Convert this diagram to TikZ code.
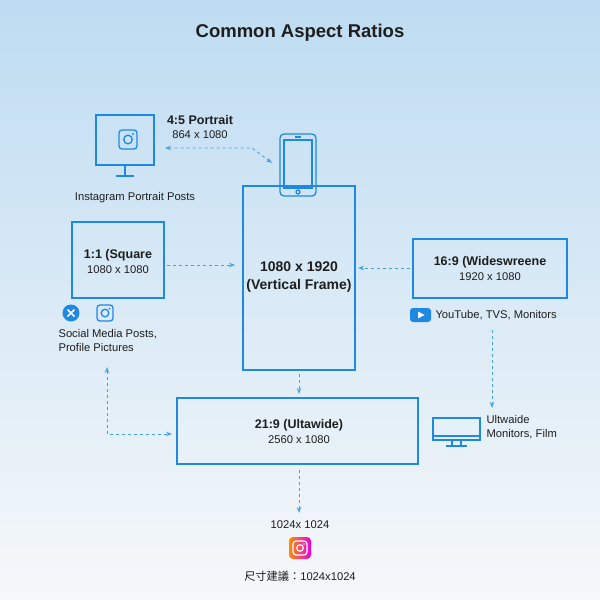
\documentclass[tikz,border=0pt]{standalone}
\usepackage{fontspec}
\setmainfont{Liberation Sans}
\newfontfamily\cjk{Noto Sans CJK TC}
\usetikzlibrary{arrows.meta,calc}
\definecolor{frameblue}{RGB}{30,136,229}
\definecolor{arrowblue}{RGB}{70,160,230}
\definecolor{ink}{RGB}{30,30,30}
\definecolor{bgtop}{RGB}{190,220,242}
\definecolor{bgbot}{RGB}{246,248,250}
\tikzset{
  ratiobox/.style={draw=frameblue, line width=1.4pt},
  flow/.style={arrowblue, dashed, line width=0.9pt, -{Stealth[open,length=6pt]}},
  biflow/.style={arrowblue, dashed, line width=0.9pt, {Stealth[open,length=6pt]}-{Stealth[open,length=6pt]}},
  icon/.style={draw=frameblue, line width=1.3pt},
  head/.style={font=\bfseries\fontsize{12.5}{15}\selectfont, text=ink},
  sub/.style={font=\fontsize{11.2}{13}\selectfont, text=ink},
  note/.style={font=\fontsize{11.2}{14}\selectfont, text=ink, align=left}
}
\begin{document}
\begin{tikzpicture}[x=1pt,y=-1pt]
  % background
  \shade[top color=bgtop, bottom color=bgbot] (0,0) rectangle (600,600);
  \useasboundingbox (0,0) rectangle (600,600);

  % title
  \node[font=\bfseries\fontsize{18.5}{22}\selectfont, text=ink] (title) at (300,33) {Common Aspect Ratios};

  % monitor with instagram (4:5)
  \draw[icon] (96,115) rectangle (154,165);
  \draw[icon] (125,165) -- (125,176) (116,176) -- (134,176);
  \draw[icon, rounded corners=3pt] (119,130) rectangle (137,149);
  \draw[icon] (128,139.5) circle (4.3);
  \fill[frameblue] (133,134) circle (1.1);
  \node[head] (portrait) at (200,120) {4:5 Portrait};
  \node[sub] (portraitsz) at (200,135) {864 x 1080};
  \node[note] (portraitnote) at (135,198) {Instagram Portrait Posts};

  % phone
  \draw[icon, rounded corners=4pt] (280,134) rectangle (316,196);
  \draw[icon] (284,140) rectangle (312,188);
  \draw[icon] (298,192) circle (2);
  \draw[icon] (295,137) -- (301,137);
  \coordinate (phone) at (272,163);
  \coordinate (monitor) at (165,148);
  \draw[biflow] (monitor) -- (252,148) -- (phone);

  % vertical frame
  \draw[ratiobox] (243,186) rectangle (355,370);
  \node[font=\bfseries\fontsize{14}{18}\selectfont, text=ink, align=center] (vertical) at (299,277) {1080 x 1920\\(Vertical Frame)};
  \coordinate (vleft) at (235,265);
  \coordinate (vright) at (358,268);
  \coordinate (vbottom) at (299,374);

  % square (1:1)
  \draw[ratiobox] (72,222) rectangle (164,298);
  \node[head] (square) at (118,255) {1:1 (Square};
  \node[sub] (squaresz) at (118,270) {1080 x 1080};
  \coordinate (sqright) at (167,265);
  \draw[flow] (sqright) -- (vleft);
  \fill[frameblue] (71,313) circle (8.5);
  \draw[white, line width=1.6pt] (67.5,309.5) -- (74.5,316.5) (67.5,316.5) -- (74.5,309.5);
  \draw[icon, rounded corners=3pt] (97,305) rectangle (113,321);
  \draw[icon] (105,313) circle (3.8);
  \fill[frameblue] (109.5,308.5) circle (1);
  \node[note, anchor=west] (social) at (55,340) {Social Media Posts,\\Profile Pictures};

  % widescreen (16:9)
  \draw[ratiobox] (413,239) rectangle (567,298);
  \node[head] (wide) at (490,262) {16:9 (Wideswreene};
  \node[sub] (widesz) at (490,277) {1920 x 1080};
  \coordinate (wideleft) at (410,268);
  \draw[flow] (wideleft) -- (vright);
  \fill[frameblue, rounded corners=3pt] (410,308) rectangle (431,322);
  \fill[white] (418,311.5) -- (418,318.5) -- (424.5,315) -- cycle;
  \node[note, anchor=west] (youtube) at (432,315) {YouTube, TVS, Monitors};
  \coordinate (ytbelow) at (492,330);
  \coordinate (uwmon) at (492,408);
  \draw[flow] (ytbelow) -- (uwmon);

  % ultrawide monitor
  \draw[icon] (433,418) rectangle (480,440);
  \draw[icon] (433,436) -- (480,436);
  \draw[icon] (452,440) -- (452,446) (461,440) -- (461,446) (446,446) -- (467,446);
  \node[note, anchor=west] (uwnote) at (483,427) {Ultwaide\\Monitors, Film};

  % ultrawide (21:9)
  \draw[ratiobox] (177,398) rectangle (418,464);
  \node[head] (ultra) at (299,425) {21:9 (Ultawide)};
  \node[sub] (ultrasz) at (299,440) {2560 x 1080};
  \coordinate (utop) at (299,394);
  \draw[flow] (vbottom) -- (utop);
  \coordinate (socialbelow) at (107,367);
  \coordinate (uleft) at (172,434);
  \draw[biflow] (socialbelow) -- (107,434) -- (uleft);

  % 1024 square
  \coordinate (ubottom) at (299,470);
  \coordinate (sqtop) at (299,513);
  \draw[flow] (ubottom) -- (sqtop);
  \node[sub] (small) at (300,525) {1024x 1024};
  \shade[left color=orange!90!yellow, right color=magenta!80!violet, rounded corners=4pt] (289,537) rectangle (311,559);
  \draw[white, line width=1.2pt, rounded corners=3pt] (293,541) rectangle (307,555);
  \draw[white, line width=1.2pt] (300,548) circle (3.3);
  \fill[white] (304,544) circle (0.9);
  \node[sub] (cjknote) at (300,576) {{\cjk 尺寸建議：}1024x1024};
\end{tikzpicture}
\end{document}
